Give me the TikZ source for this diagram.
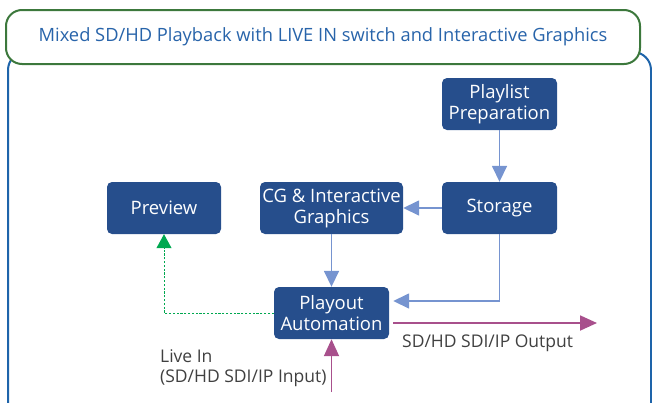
\documentclass[tikz,border=0pt]{standalone}
\usepackage{fontspec}
\setmainfont{Open Sans}
\usepackage{tikz}
\usetikzlibrary{arrows.meta,positioning,calc}
\definecolor{boxnavy}{RGB}{38,78,140}
\definecolor{flowblue}{RGB}{118,148,208}
\definecolor{signalpurple}{RGB}{168,80,140}
\definecolor{previewgreen}{RGB}{0,168,80}
\definecolor{titlegreen}{RGB}{60,120,60}
\definecolor{titleblue}{RGB}{40,100,170}
\definecolor{framblue}{RGB}{30,100,170}

\begin{document}
\begin{tikzpicture}[
    x=1pt, y=-1pt,
    box/.style={rectangle, fill=boxnavy, rounded corners=5pt, align=center, text=white, minimum width=115pt, minimum height=52pt, inner sep=1pt, font=\fontsize{18.5}{21}\selectfont},
    flow/.style={-{Triangle[width=15pt,length=16pt]}, flowblue, line width=1.6pt},
    signal/.style={-{Triangle[width=15pt,length=17pt]}, signalpurple, line width=1.8pt},
    dotflow/.style={-{Triangle[width=15pt,length=14pt]}, previewgreen, line width=1pt, dash pattern=on 2.2pt off 1.6pt},
    caption/.style={align=left, text=black!75, font=\fontsize{17.5}{20}\selectfont, inner sep=0pt}
]
    \useasboundingbox (0,0) rectangle (652,402);
    \clip (0,0) rectangle (652,402);
    \draw[framblue, line width=2pt, rounded corners=18pt] (8,52) rectangle (651,440);
    \node[draw=titlegreen, line width=2pt, fill=white, rounded corners=16pt, minimum width=634pt, minimum height=54pt, text=titleblue, font=\fontsize{18.3}{21}\selectfont] (title) at (323,37) {Mixed SD/HD Playback with LIVE IN switch and Interactive Graphics};

    \node[box] (plist) at (499.5,104) {Playlist\\Preparation};
    \node[box] (store) at (499.5,208) {Storage};
    \node[box, minimum width=143pt] (cg) at (331.5,208) {CG \& Interactive\\Graphics};
    \node[box, minimum width=114pt] (prev) at (164,208) {Preview};
    \node[box] (play) at (331.5,313) {Playout\\Automation};
    \coordinate (outend) at (597,323);
    \coordinate (instart) at (331.5,392);

    \draw[flow] (plist) -- (store);
    \draw[flow] (store) -- (cg);
    \draw[flow] (cg) -- (play);
    \draw[flow] (store.south) |- ($(play.east)+(4,-12)$);
    \draw[dotflow] (play.west) -| (prev.south);
    \draw[signal] ($(play.east)+(4,10)$) -- (outend);
    \draw[signal] (instart) -- (play.south);

    \node[caption, anchor=north west] (outlbl) at (402,335) {SD/HD SDI/IP Output};
    \node[caption, anchor=north west] (inlbl) at (160,349) {Live In\\(SD/HD SDI/IP Input)};
\end{tikzpicture}
\end{document}
